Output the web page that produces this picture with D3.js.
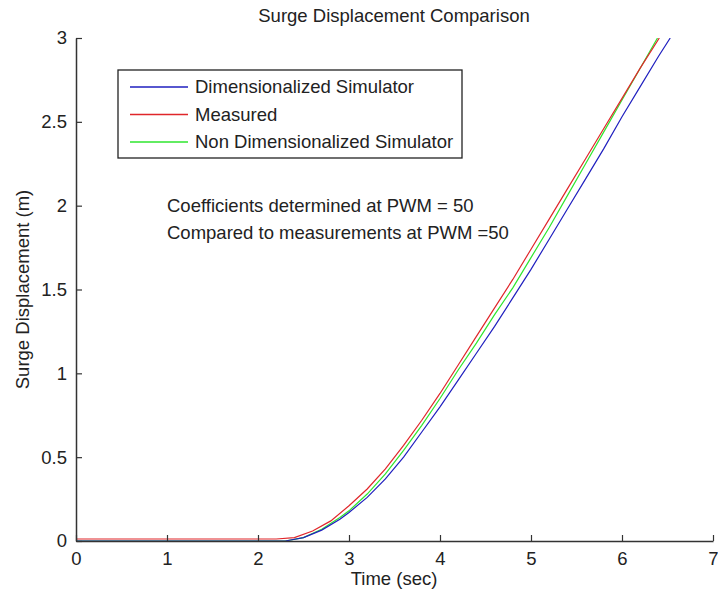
<!DOCTYPE html>
<html><head><meta charset="utf-8">
<script src="https://cdn.jsdelivr.net/npm/d3@7"></script>
<style>body{margin:0;background:#fff}svg{display:block}text{font-family:"Liberation Sans",Arial,sans-serif;fill:#222}</style>
</head><body><svg id="c" width="718" height="598"></svg>
<script>
const xTicks=[0,1,2,3,4,5,6,7];
const yTicks=[0,0.5,1,1.5,2,2.5,3];
const yTickLabels=["0","0.5","1","1.5","2","2.5","3"];
const seriesNames=["Dimensionalized Simulator","Measured","Non Dimensionalized Simulator"];
const seriesColors=["#1f1fbf","#e0262a","#2ee62e"];
const dimT=[0,2.3,2.5,2.7,2.9,3.0,3.2,3.4,3.6,3.8,4.0,4.2,4.4,4.6,4.8,5.0,5.2,5.4,5.6,5.8,6.0,6.2,6.4,6.53];
const dimY=[0,0,0.02,0.065,0.13,0.17,0.26,0.37,0.50,0.65,0.80,0.96,1.12,1.28,1.45,1.62,1.80,1.98,2.16,2.34,2.53,2.71,2.89,3.0];
const measT=[0,2.2,2.4,2.6,2.8,3.0,3.2,3.4,3.6,3.8,4.0,4.2,4.4,4.6,4.8,5.0,5.2,5.4,5.6,5.8,6.0,6.2,6.41];
const measY=[0.012,0.012,0.02,0.06,0.12,0.21,0.31,0.43,0.57,0.72,0.88,1.05,1.22,1.39,1.56,1.74,1.92,2.10,2.28,2.46,2.64,2.82,3.0];
const nonT=[0,2.3,2.5,2.7,2.9,3.0,3.2,3.4,3.6,3.8,4.0,4.2,4.4,4.6,4.8,5.0,5.2,5.4,5.6,5.8,6.0,6.2,6.39];
const nonY=[0,0,0.02,0.07,0.14,0.18,0.28,0.40,0.54,0.69,0.85,1.02,1.18,1.35,1.51,1.69,1.87,2.06,2.25,2.44,2.63,2.82,3.0];
const titleText="Surge Displacement Comparison";
const xLabel="Time (sec)";
const yLabel="Surge Displacement (m)";
const notes=["Coefficients determined at PWM = 50","Compared to measurements at PWM =50"];

const FS=18.5;
const svg=d3.select("#c");
const L=76,R=713,T=38,B=541;
const x=d3.scaleLinear().domain([0,7]).range([L,R]);
const y=d3.scaleLinear().domain([0,3]).range([B,T]);
const axisColor="#333";

svg.append("defs").append("clipPath").attr("id","clip").append("rect")
  .attr("x",L).attr("y",T).attr("width",R-L).attr("height",B-T+2);

const series=[[dimT,dimY],[measT,measY],[nonT,nonY]].map((s,i)=>({name:seriesNames[i],color:seriesColors[i],pts:s[0].map((t,j)=>[t,s[1][j]])}));
const line=d3.line().x(d=>x(d[0])).y(d=>y(d[1]));
const g=svg.append("g").attr("clip-path","url(#clip)");
[2,0,1].forEach(i=>{
  g.append("path").attr("d",line(series[i].pts)).attr("fill","none")
   .attr("stroke",series[i].color).attr("stroke-width",1.2);
});

const xa=svg.append("g").attr("transform",`translate(0,${B})`)
  .call(d3.axisBottom(x).tickValues(xTicks).tickSizeInner(-6).tickSizeOuter(0).tickPadding(11).tickFormat(d3.format("d")));
const ya=svg.append("g").attr("transform",`translate(${L},0)`)
  .call(d3.axisLeft(y).tickValues(yTicks).tickSizeInner(-6).tickSizeOuter(0).tickPadding(9).tickFormat((d,i)=>yTickLabels[i]));
[xa,ya].forEach(a=>{
  a.select(".domain").attr("stroke",axisColor).attr("stroke-width",1.5);
  a.selectAll(".tick line").attr("stroke",axisColor).attr("stroke-width",1.2);
  a.selectAll(".tick text").attr("font-size",FS).attr("fill","#222").style("font-family","Liberation Sans, Arial");
});

svg.append("text").attr("x",394).attr("y",22).attr("text-anchor","middle").attr("font-size",FS).text(titleText);
svg.append("text").attr("x",394).attr("y",585).attr("text-anchor","middle").attr("font-size",FS).text(xLabel);
svg.append("text").attr("transform",`translate(29,${(T+B)/2}) rotate(-90)`).attr("text-anchor","middle").attr("font-size",FS).text(yLabel);

const lg=svg.append("g");
lg.append("rect").attr("x",118).attr("y",70).attr("width",344).attr("height",88).attr("fill","#fff").attr("stroke","#222").attr("stroke-width",1.3);
series.forEach((s,i)=>{
  const yy=87+i*27.5;
  lg.append("line").attr("x1",130).attr("x2",188).attr("y1",yy).attr("y2",yy).attr("stroke",s.color).attr("stroke-width",1.3);
  lg.append("text").attr("x",195).attr("y",yy).attr("dy","0.35em").attr("font-size",FS).text(s.name);
});
notes.forEach((n,i)=>{
  svg.append("text").attr("x",167).attr("y",206+i*27).attr("dy","0.35em").attr("font-size",FS).text(n);
});
</script></body></html>
